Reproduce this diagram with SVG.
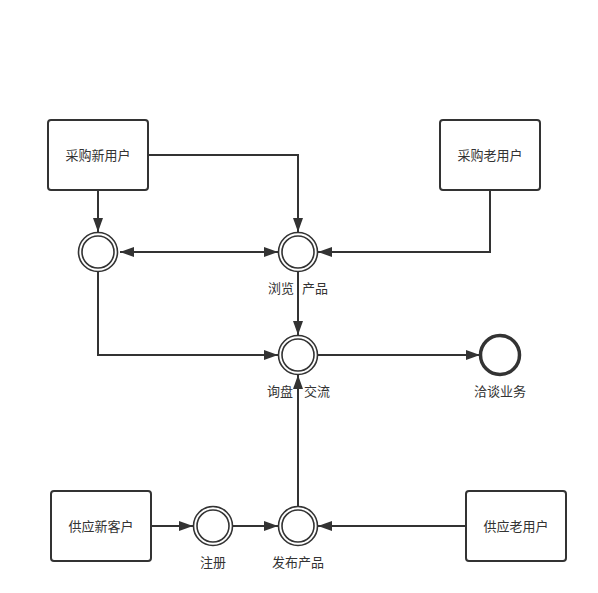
<svg xmlns="http://www.w3.org/2000/svg" width="598" height="593" viewBox="0 0 598 593">
<style>
.box{fill:#fff;stroke:#333;stroke-width:2}
.ring{fill:#fff;stroke:#333;stroke-width:1.6}
.end{fill:#fff;stroke:#333;stroke-width:3.5}
.ln{fill:none;stroke:#333;stroke-width:2}
text{font-family:"Noto Sans CJK SC","Liberation Sans",sans-serif;font-size:13px;fill:#333;text-anchor:middle}
.r{text-anchor:end}
.l{text-anchor:start}
</style>
<defs>
<marker id="ah" viewBox="0 0 14 10" refX="14" refY="5" markerWidth="14" markerHeight="10" markerUnits="userSpaceOnUse" orient="auto-start-reverse">
<path d="M0,0 L14,5 L0,10 Z" fill="#333"/>
</marker>
</defs>
<rect width="598" height="593" fill="#fff"/>
<g id="connectors">
<path class="ln" d="M98,190 V232" marker-end="url(#ah)"/>
<path class="ln" d="M148,155 H298 V232" marker-end="url(#ah)"/>
<path class="ln" d="M120,252 H278" marker-start="url(#ah)" marker-end="url(#ah)"/>
<path class="ln" d="M490,190 V252 H318" marker-end="url(#ah)"/>
<path class="ln" d="M298,272 V335" marker-end="url(#ah)"/>
<path class="ln" d="M98,272 V355 H278" marker-end="url(#ah)"/>
<path class="ln" d="M318,355 H480" marker-end="url(#ah)"/>
<path class="ln" d="M298,506 V375" marker-end="url(#ah)"/>
<path class="ln" d="M151,526 H193" marker-end="url(#ah)"/>
<path class="ln" d="M233,526 H278" marker-end="url(#ah)"/>
<path class="ln" d="M466,526 H318" marker-end="url(#ah)"/>
</g>
<g id="buyer-new"><rect class="box" x="48" y="120" width="100" height="70" rx="3"/><text x="98" y="160">采购新用户</text></g>
<g id="buyer-old"><rect class="box" x="440" y="120" width="100" height="70" rx="3"/><text x="490" y="160">采购老用户</text></g>
<g id="supplier-new"><rect class="box" x="51" y="491" width="100" height="70" rx="3"/><text x="101" y="531">供应新客户</text></g>
<g id="supplier-old"><rect class="box" x="466" y="491" width="100" height="70" rx="3"/><text x="516" y="531">供应老用户</text></g>
<g id="e1"><circle class="ring" cx="98" cy="252" r="19.5"/><circle class="ring" cx="98" cy="252" r="16"/></g>
<g id="browse"><circle class="ring" cx="298" cy="252" r="19.5"/><circle class="ring" cx="298" cy="252" r="16"/><text class="r" x="294" y="293">浏览</text><text class="l" x="302" y="293">产品</text></g>
<g id="inquiry"><circle class="ring" cx="298" cy="355" r="19.5"/><circle class="ring" cx="298" cy="355" r="16"/><text class="r" x="293" y="396">询盘</text><text class="l" x="304" y="396">交流</text></g>
<g id="deal"><circle class="end" cx="500" cy="355" r="19.5"/><text x="500" y="396">洽谈业务</text></g>
<g id="register"><circle class="ring" cx="213" cy="526" r="19.5"/><circle class="ring" cx="213" cy="526" r="16"/><text x="213" y="567">注册</text></g>
<g id="publish"><circle class="ring" cx="298" cy="526" r="19.5"/><circle class="ring" cx="298" cy="526" r="16"/><text x="298" y="567">发布产品</text></g>
</svg>
